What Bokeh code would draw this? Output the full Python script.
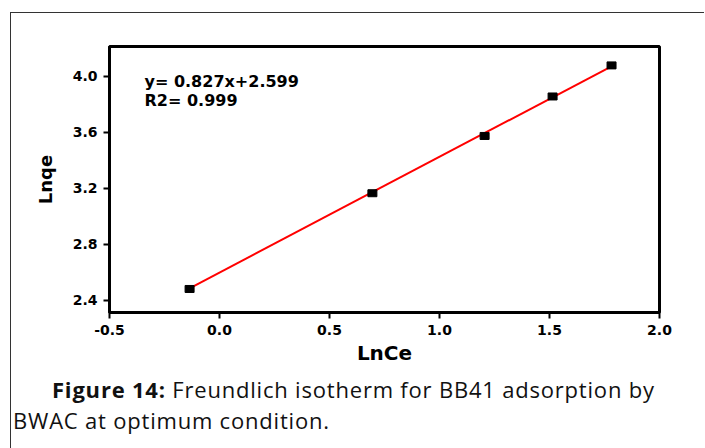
from bokeh.plotting import figure
from bokeh.models import Range1d, FixedTicker, Label, CustomJSTickFormatter, Div
from bokeh.layouts import column
from bokeh.embed import file_html
from bokeh.resources import INLINE

# Data
ln_ce = [-0.136, 0.695, 1.205, 1.514, 1.782]
ln_qe = [2.482, 3.166, 3.575, 3.857, 4.079]
slope = 0.827
intercept = 2.599
x_ticks = [-0.5, 0.0, 0.5, 1.0, 1.5, 2.0]
y_ticks = [2.4, 2.8, 3.2, 3.6, 4.0]
eq_line1 = "y= 0.827x+2.599"
eq_line2 = "R2= 0.999"
caption_bold = "Figure 14:"
caption_rest = "Freundlich isotherm for BB41 adsorption by"
caption_line2 = "BWAC at optimum condition."

FONT = "DejaVu Sans"
W, H = 692, 356
p = figure(width=W, height=H, output_backend="svg", toolbar_location=None,
           x_range=Range1d(-0.5, 2.0), y_range=Range1d(2.314, 4.214),
           min_border_left=98, min_border_right=44, min_border_top=33, min_border_bottom=57)
p.grid.visible = False
p.background_fill_color = "white"
p.border_fill_color = "white"
p.outline_line_color = "black"
p.outline_line_width = 3

for ax in (p.xaxis[0], p.yaxis[0]):
    ax.axis_line_width = 3
    ax.axis_line_color = "black"
    ax.major_tick_line_width = 2
    ax.major_tick_out = 6
    ax.major_tick_in = 0
    ax.minor_tick_line_color = None
    ax.major_label_text_font = FONT
    ax.major_label_text_font_style = "bold"
    ax.major_label_text_font_size = "14px"
    ax.major_label_text_color = "black"
    ax.axis_label_text_font = FONT
    ax.axis_label_text_font_style = "bold"
    ax.axis_label_text_color = "black"

p.xaxis.axis_label_text_font_size = "20px"
p.yaxis.axis_label_text_font_size = "18px"
p.xaxis.ticker = FixedTicker(ticks=x_ticks)
p.yaxis.ticker = FixedTicker(ticks=y_ticks)
p.xaxis.formatter = CustomJSTickFormatter(code="return tick.toFixed(1);")
p.yaxis.formatter = CustomJSTickFormatter(code="return tick.toFixed(1);")
p.xaxis.axis_label = "LnCe"
p.yaxis.axis_label = "Lnqe"
p.xaxis.major_label_standoff = 6
p.xaxis.axis_label_standoff = 3
p.yaxis.major_label_standoff = 6
p.yaxis.axis_label_standoff = 14

# fit line
x0, x1 = ln_ce[0], ln_ce[-1]
p.line([x0, x1], [slope * x0 + intercept, slope * x1 + intercept], line_color="red", line_width=2)
p.rect(ln_ce, ln_qe, width=9, height=7, width_units="screen", height_units="screen",
       fill_color="black", line_color="black")

def px2x(px):
    return -0.5 + (px - 110) / 220.0

def py2y(py):
    return 2.4 + (301 - py) / 140.0

common = dict(text_font=FONT, text_font_style="bold", text_font_size="16px",
              text_color="black", text_baseline="middle")
p.add_layout(Label(x=px2x(145), y=py2y(82), text=eq_line1, **common))
p.add_layout(Label(x=px2x(145), y=py2y(101), text=eq_line2, **common))

caption = Div(
    text=(f'<div style="padding-left:36px"><b>{caption_bold}</b> {caption_rest}</div>'
          f'<div style="margin-left:-3px">{caption_line2}</div>'),
    width=W, height=74,
    styles={"font-family": "'Open Sans'", "font-size": "22px", "line-height": "31px",
            "color": "#111", "padding-top": "0px", "letter-spacing": "0.8px",
            "background": "white", "white-space": "nowrap"},
)

layout = column(p, caption, spacing=0)
layout.styles = {"margin-left": "10px", "margin-top": "12px", "width": "694px",
                 "border-top": "1px solid #333", "border-left": "1px solid #333"}

open("out.html", "w").write(file_html(layout, INLINE))
